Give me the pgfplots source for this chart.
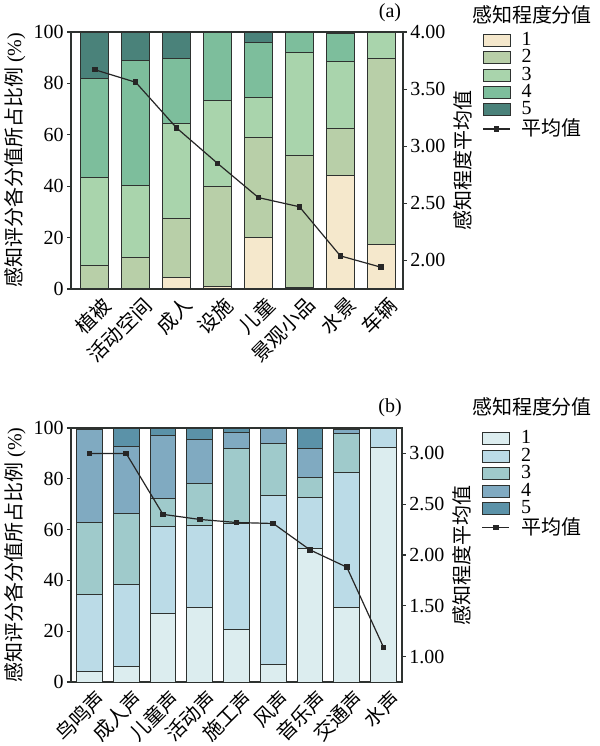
\documentclass[border=0pt]{standalone}
\usepackage{fontspec}
\setmainfont{Liberation Serif}
\newfontfamily\cjk{Noto Sans CJK SC}
\usepackage{pgfplots}
\usepackage{pgfplotstable}
\pgfplotsset{compat=1.18}

\definecolor{ga1}{HTML}{F5E8CC}
\definecolor{ga2}{HTML}{B8CFA8}
\definecolor{ga3}{HTML}{A9D4AC}
\definecolor{ga4}{HTML}{7DBE9C}
\definecolor{ga5}{HTML}{4A827A}
\definecolor{bb1}{HTML}{DCEDEF}
\definecolor{bb2}{HTML}{BBDBE7}
\definecolor{bb3}{HTML}{9FCACB}
\definecolor{bb4}{HTML}{80AAC1}
\definecolor{bb5}{HTML}{5B92A8}
\definecolor{edge}{HTML}{2E3230}

\pgfplotstableread{
x c1 c2 c3 c4 c5 m
0 0 9.3 33.9 38.9 17.9 3.67
1 0 12.2 28.0 48.8 11.0 3.56
2 4.3 23.3 36.7 25.2 10.5 3.16
3 1.0 38.8 33.6 26.6 0 2.85
4 20.2 38.6 15.9 21.3 4.0 2.55
5 0.5 51.4 40.3 7.8 0 2.47
6 44.1 18.3 26.2 11.0 0.4 2.04
7 17.5 72.0 10.5 0 0 1.94
}\dataA

\pgfplotstableread{
x c1 c2 c3 c4 c5 m
0 4.3 30.2 28.3 36.5 0.7 3.00
1 6.2 32.2 27.9 26.6 7.1 3.00
2 26.8 34.5 11.1 24.7 2.9 2.40
3 29.3 32.4 16.6 17.0 4.7 2.35
4 20.7 41.7 29.7 6.3 1.6 2.32
5 6.7 66.9 20.3 6.1 0 2.31
6 52.6 20.2 7.6 11.7 7.9 2.05
7 29.3 53.1 15.5 1.5 0.6 1.88
8 92.2 7.8 0 0 0 1.09
}\dataB

\pgfplotsset{
  common/.style={
    scale only axis,
    anchor=south west,
    font=\fontsize{10}{12}\selectfont,
    /pgf/number format/assume math mode=true,
    tick align=outside,
    major tick length=2pt,
    axis line style={line width=0.6pt, draw=edge},
    every tick/.style={line width=0.6pt, draw=edge},
    yticklabel style={inner sep=1.5pt},
  },
  barax/.style={
    common,
    ymin=0, ymax=100,
    ybar stacked,
    ytick={0,20,40,60,80,100},
    ytick pos=left,
    x tick style={draw=none},
    xticklabel style={font=\cjk\fontsize{10}{12}\selectfont, rotate=45, anchor=north east, inner sep=1pt, xshift=2.5pt, yshift=-1.5pt},
    ylabel={{\cjk 感知评分各分值所占比例} (\%)},
    ylabel style={at={(axis description cs:-0.169,0.5)}, anchor=center},
  },
  lineax/.style={
    common,
    axis y line*=right,
    axis x line=none,
    yticklabel style={/pgf/number format/.cd, fixed, fixed zerofill, precision=2},
    ylabel={\cjk 感知程度平均值},
    ylabel style={at={(axis description cs:1.181,0.5)}, anchor=center},
    legend cell align=left,
    legend style={draw=none, fill=none, inner sep=0pt, row sep=-0.4pt, column sep=5pt,
      nodes={inner sep=0.5pt}},
  },
  boxleg/.style={legend image code/.code={\draw[##1] (0pt,-3pt) rectangle (13.5pt,3pt);}},
  lineleg/.style={legend image code/.code={\draw[##1, mark repeat=2, mark phase=2] plot coordinates {(0pt,0pt) (6.75pt,0pt) (13.5pt,0pt)};}},
  meanline/.style={draw=black!85, line width=0.6pt, mark=square*, mark size=1.1pt, mark options={fill=black!85, draw=black!85}},
}

\begin{document}
\begin{tikzpicture}
\useasboundingbox (0,0) rectangle (300pt,373pt);

% ---------- panel (a) ----------
\begin{axis}[barax, at={(35.5pt,228.5pt)}, width=166pt, height=128.5pt,
  xmin=-0.58, xmax=7.53, bar width=0.69,
  xtick={0,1,2,3,4,5,6,7},
  xticklabels={植被,活动空间,成人,设施,儿童,景观小品,水景,车辆}]
\addplot[fill=ga1, draw=edge, line width=0.5pt] table[x=x,y=c1]{\dataA};
\addplot[fill=ga2, draw=edge, line width=0.5pt] table[x=x,y=c2]{\dataA};
\addplot[fill=ga3, draw=edge, line width=0.5pt] table[x=x,y=c3]{\dataA};
\addplot[fill=ga4, draw=edge, line width=0.5pt] table[x=x,y=c4]{\dataA};
\addplot[fill=ga5, draw=edge, line width=0.5pt] table[x=x,y=c5]{\dataA};
\end{axis}
\begin{axis}[lineax, at={(35.5pt,228.5pt)}, width=166pt, height=128.5pt,
  xmin=-0.58, xmax=7.53, ymin=1.75, ymax=4,
  ytick={2,2.5,3,3.5,4},
  legend style={at={(axis description cs:1.238,1.005)}, anchor=north west}]
\addlegendimage{boxleg, fill=ga1, draw=edge, line width=0.5pt}
\addlegendentry{1}
\addlegendimage{boxleg, fill=ga2, draw=edge, line width=0.5pt}
\addlegendentry{2}
\addlegendimage{boxleg, fill=ga3, draw=edge, line width=0.5pt}
\addlegendentry{3}
\addlegendimage{boxleg, fill=ga4, draw=edge, line width=0.5pt}
\addlegendentry{4}
\addlegendimage{boxleg, fill=ga5, draw=edge, line width=0.5pt}
\addlegendentry{5}
\addplot[meanline, lineleg] table[x=x,y=m]{\dataA};
\addlegendentry{\cjk 平均值}
\end{axis}
\node[font=\fontsize{10}{12}\selectfont] at (195pt,366.5pt) {(a)};
\node[font=\cjk\fontsize{10}{12}\selectfont] at (266pt,365.5pt) {感知程度分值};

% ---------- panel (b) ----------
\begin{axis}[barax, at={(35.5pt,32pt)}, width=165.5pt, height=127pt,
  xmin=-0.5, xmax=8.5, bar width=0.70,
  xtick={0,1,2,3,4,5,6,7,8},
  xticklabels={鸟鸣声,成人声,儿童声,活动声,施工声,风声,音乐声,交通声,水声}]
\addplot[fill=bb1, draw=edge, line width=0.5pt] table[x=x,y=c1]{\dataB};
\addplot[fill=bb2, draw=edge, line width=0.5pt] table[x=x,y=c2]{\dataB};
\addplot[fill=bb3, draw=edge, line width=0.5pt] table[x=x,y=c3]{\dataB};
\addplot[fill=bb4, draw=edge, line width=0.5pt] table[x=x,y=c4]{\dataB};
\addplot[fill=bb5, draw=edge, line width=0.5pt] table[x=x,y=c5]{\dataB};
\end{axis}
\begin{axis}[lineax, at={(35.5pt,32pt)}, width=165.5pt, height=127pt,
  xmin=-0.5, xmax=8.5, ymin=0.75, ymax=3.25,
  ytick={1,1.5,2,2.5,3},
  legend style={at={(axis description cs:1.24,0.995)}, anchor=north west}]
\addlegendimage{boxleg, fill=bb1, draw=edge, line width=0.5pt}
\addlegendentry{1}
\addlegendimage{boxleg, fill=bb2, draw=edge, line width=0.5pt}
\addlegendentry{2}
\addlegendimage{boxleg, fill=bb3, draw=edge, line width=0.5pt}
\addlegendentry{3}
\addlegendimage{boxleg, fill=bb4, draw=edge, line width=0.5pt}
\addlegendentry{4}
\addlegendimage{boxleg, fill=bb5, draw=edge, line width=0.5pt}
\addlegendentry{5}
\addplot[meanline, lineleg] table[x=x,y=m]{\dataB};
\addlegendentry{\cjk 平均值}
\end{axis}
\node[font=\fontsize{10}{12}\selectfont] at (195pt,169pt) {(b)};
\node[font=\cjk\fontsize{10}{12}\selectfont] at (266pt,169.5pt) {感知程度分值};
\end{tikzpicture}
\end{document}
